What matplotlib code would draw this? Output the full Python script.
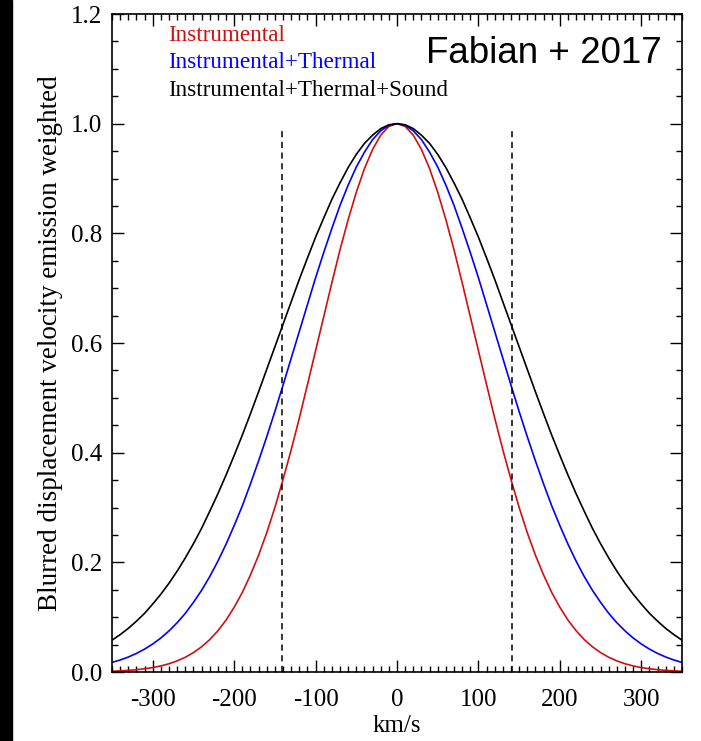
import numpy as np
import matplotlib
matplotlib.use('Agg')
import matplotlib.pyplot as plt
from matplotlib.ticker import MultipleLocator

plt.rcParams['font.family'] = ['Liberation Serif', 'DejaVu Serif']
plt.rcParams['axes.unicode_minus'] = False

# velocity samples (km/s), one side; curves are symmetric about 0
v_half = np.arange(0, 360, 10)

instr = [1.000, 0.995, 0.979, 0.953, 0.918, 0.875, 0.825, 0.770, 0.710, 0.648,
         0.586, 0.524, 0.463, 0.405, 0.351, 0.300, 0.254, 0.213, 0.177, 0.145,
         0.118, 0.0946, 0.0752, 0.0591, 0.0460, 0.0354, 0.0269, 0.0203, 0.0151, 0.0111,
         0.0081, 0.0059, 0.0042, 0.0030, 0.0021, 0.0014]
instr_therm = [1.000, 0.997, 0.987, 0.971, 0.948, 0.921, 0.888, 0.851, 0.809, 0.765,
               0.719, 0.670, 0.621, 0.572, 0.523, 0.475, 0.429, 0.385, 0.343, 0.303,
               0.267, 0.233, 0.202, 0.174, 0.149, 0.127, 0.107, 0.0899, 0.0750, 0.0621,
               0.0511, 0.0418, 0.0339, 0.0273, 0.0219, 0.0175]
instr_therm_sound = [1.000, 0.998, 0.991, 0.979, 0.964, 0.944, 0.920, 0.892, 0.862, 0.828,
                     0.793, 0.755, 0.716, 0.675, 0.634, 0.593, 0.552, 0.511, 0.471, 0.432,
                     0.395, 0.359, 0.325, 0.293, 0.262, 0.234, 0.208, 0.184, 0.162, 0.142,
                     0.124, 0.107, 0.0927, 0.0796, 0.0682, 0.0581]

dash_v = [-141, 141]
labels = ['Instrumental', 'Instrumental+Thermal', 'Instrumental+Thermal+Sound']
colors = ['#d01010', '#0000ff', 'black']


def mirror(vals):
    vals = np.asarray(vals)
    return np.concatenate([vals[:0:-1], vals])


v = np.concatenate([-v_half[:0:-1], v_half])

fig = plt.figure(figsize=(7.01, 7.41), dpi=100)
fig.patches.append(plt.Rectangle((0, 0), 12 / 701, 1, transform=fig.transFigure,
                                 color='black', zorder=-1))
ax = fig.add_axes([0.1598, 0.0931, 0.8131, 0.8880])

for data, c in zip([instr, instr_therm, instr_therm_sound], colors):
    ax.plot(v, mirror(data), color=c, lw=1.2)

for d in dash_v:
    ax.plot([d, d], [0, 0.992], color='black', lw=1.1, ls=(0, (4, 3)))

ax.set_xlim(-350, 350)
ax.set_ylim(0, 1.2)
ax.xaxis.set_major_locator(MultipleLocator(100))
ax.xaxis.set_minor_locator(MultipleLocator(10))
ax.yaxis.set_major_locator(MultipleLocator(0.2))
ax.yaxis.set_minor_locator(MultipleLocator(0.05))
ax.yaxis.set_major_formatter(plt.FuncFormatter(lambda y, _: f'{y:.1f}'))
ax.tick_params(which='both', direction='in', top=True, right=True, width=1.0)
ax.tick_params(which='major', length=8.3, labelsize=18, pad=7)
ax.tick_params(axis='x', which='major', pad=12)
ax.tick_params(which='minor', length=4)
for s in ax.spines.values():
    s.set_linewidth(1.2)

ax.set_xlabel('km/s', fontsize=18, labelpad=3)
ax.set_ylabel('Blurred displacement velocity emission weighted', fontsize=19.5, labelpad=6)

ys = [0.959, 0.918, 0.875]
for lab, c, y in zip(labels, colors, ys):
    ax.text(0.098, y, lab, color=c, fontsize=16.7, va='baseline', ha='left',
            transform=ax.transAxes)

ax.text(0.965, 0.925, 'Fabian + 2017', fontsize=26.5, family='Liberation Sans',
        va='baseline', ha='right', transform=ax.transAxes)

fig.savefig('out.png', dpi=100)
